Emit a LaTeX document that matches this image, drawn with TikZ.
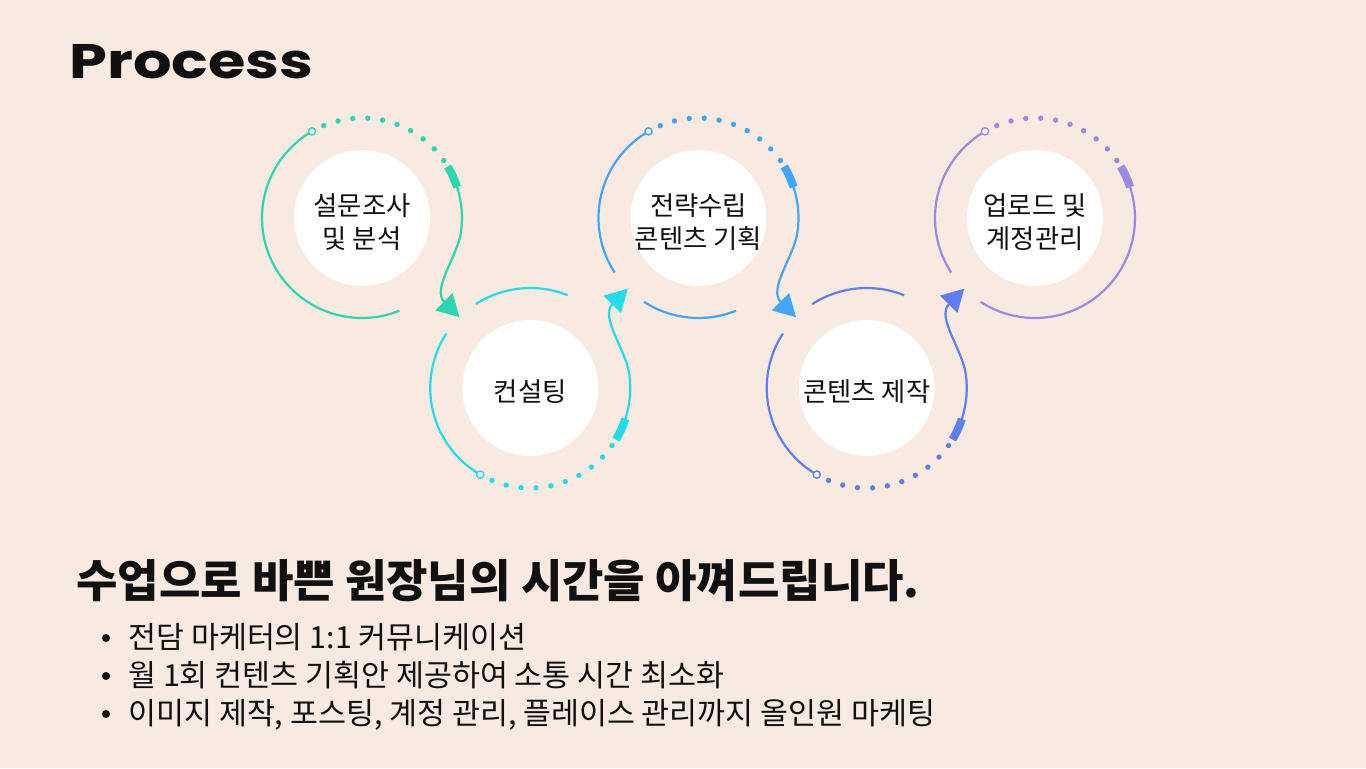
\documentclass[tikz,border=0pt]{standalone}
\usepackage{fontspec}
\usetikzlibrary{arrows.meta,calc}
\newfontfamily\krfont{Noto Sans CJK KR}
\newfontfamily\titlefont{Poppins}
\definecolor{Canvas}{HTML}{F8EAE1}
\definecolor{RingA}{HTML}{2ED6B0}
\definecolor{RingB}{HTML}{22DCE8}
\definecolor{RingC}{HTML}{42A5F5}
\definecolor{RingD}{HTML}{5F7FF0}
\definecolor{RingE}{HTML}{9C8AE0}
\definecolor{TextInk}{HTML}{111111}

\begin{document}
\begin{tikzpicture}[x=0.02cm,y=0.02cm,every node/.style={text=TextInk},stepdisc/.style={circle,fill=white,minimum size=2.72cm,inner sep=0pt},steptext/.style={align=center,inner sep=0pt,yshift=-0.08cm,font=\krfont\fontsize{15}{18.7}\selectfont},ring/.style={line width=1.25pt},tick/.style={line width=4.6pt},bullet/.style={circle,fill=TextInk,minimum size=4.6pt,inner sep=0pt},item/.style={anchor=base west,inner sep=0pt,font=\krfont\fontsize{17.3}{20}\selectfont}]
\fill[Canvas] (0,0) rectangle (1366,768);
\node[anchor=base west,inner sep=0pt,font=\titlefont\bfseries\fontsize{27.6}{30}\selectfont] (title) at (69,689){\scalebox{1.25}[1]{Process}};
\foreach \n/\x/\y/\txt in {1/362/550/{설문조사\\및 분석},2/530.25/380/{컨설팅},3/698.5/550/{전략수립\\콘텐츠 기획},4/866.75/380/{콘텐츠 제작},5/1035/550/{업로드 및\\계정관리}}{
  \node[stepdisc] (s\n) at (\x,\y){};
  \node[steptext] (l\n) at (s\n){\txt};
}
\foreach \n/\s/\col in {1/1/RingA,2/-1/RingB,3/1/RingC,4/-1/RingD,5/1/RingE}{
  \draw[ring,draw=\col] (s\n.center) ++({\s*120}:100) arc[start angle={\s*120},end angle={\s*213},radius=100];
  \foreach \k in {0,...,9}{\fill[fill=\col] (s\n.center) ++({\s*(112.5-8.6*\k)}:100) circle[radius=2.7];}
  \draw[tick,draw=\col] (s\n.center) ++({\s*31}:100) arc[start angle={\s*31},end angle={\s*18},radius=100];
  \draw[draw=\col,fill=white,line width=0.8pt] (s\n.center) ++({\s*120}:100) circle[radius=3.6];
}
\foreach \n/\s/\col/\b/\e in {1/1/RingA/213/292,2/-1/RingB/237/292,3/1/RingC/237/292,4/-1/RingD/237/292,5/1/RingE/237/378}{
  \draw[ring,draw=\col] (s\n.center) ++({\s*\b}:100) arc[start angle={\s*\b},end angle={\s*\e},radius=100];
}
\foreach \n/\m/\s/\col in {1/2/1/RingA,2/3/-1/RingB,3/4/1/RingC,4/5/-1/RingD}{
  \draw[ring,color=\col,-{Triangle[length=0.44cm,width=0.48cm]}] (s\n.center) ++({\s*18}:100) arc[start angle={\s*18},end angle={\s*(-8)},radius=100] .. controls +({\s*(-98)}:25) and +({\s*135}:40) .. ($(s\m.center)+({\s*135}:100)$);
}
\node[anchor=base west,inner sep=0pt,font=\krfont\bfseries\fontsize{25.6}{30}\selectfont] (head) at (76,171){수업으로 바쁜 원장님의 시간을 아껴드립니다.};
\foreach \i/\y/\txt in {1/120/{전담 마케터의 1:1 커뮤니케이션},2/82/{월 1회 컨텐츠 기획안 제공하여 소통 시간 최소화},3/44/{이미지 제작, 포스팅, 계정 관리, 플레이스 관리까지 올인원 마케팅}}{
  \node[bullet] (b\i) at (106,\y+10){};
  \node[item] (t\i) at (128,\y){\txt};
}
\end{tikzpicture}
\end{document}
